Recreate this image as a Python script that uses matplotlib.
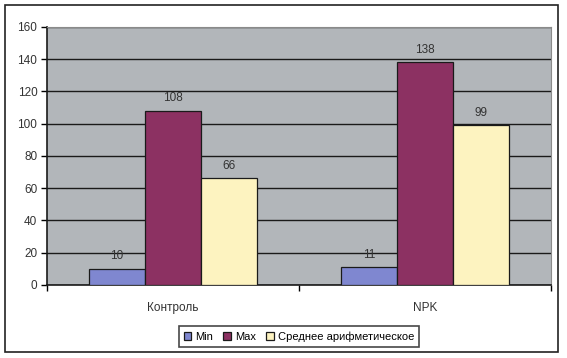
import numpy as np
import matplotlib
matplotlib.use('Agg')
import matplotlib.pyplot as plt
from matplotlib.patches import Rectangle

plt.rcParams['font.family'] = ['Liberation Sans', 'DejaVu Sans']

categories = ['Контроль', 'NPK']
series_names = ['Min', 'Max', 'Среднее арифметическое']
min_vals = [10, 11]
max_vals = [108, 138]
mean_vals = [66, 99]
colors = ['#7f87d0', '#8c3162', '#fdf3c0']

fig = plt.figure(figsize=(5.67, 3.58), dpi=100)
fig.patches.append(Rectangle((0.009, 0.017), 0.976, 0.968, transform=fig.transFigure,
                             fill=False, edgecolor='#222222', linewidth=1.2))
ax = fig.add_axes([0.083, 0.204, 0.889, 0.721])
ax.set_facecolor('#b2b6ba')

x = np.arange(len(categories))
width = 0.222
for i, (vals, name) in enumerate(zip([min_vals, max_vals, mean_vals], series_names)):
    pos = x + (i - 1) * width
    bars = ax.bar(pos, vals, width, color=colors[i], edgecolor='#1a1a1a', linewidth=0.9,
                  label=name, zorder=3)
    for b, v in zip(bars, vals):
        ax.text(b.get_x() + b.get_width() / 2, v + 4, str(v), ha='center', va='bottom',
                fontsize=8.5, color='#333333', zorder=4)

ax.set_xlim(-0.5, 1.5)
ax.set_ylim(0, 160)
ax.set_yticks(np.arange(0, 161, 20))
ax.yaxis.grid(True, color='#1a1a1a', linewidth=1.0, zorder=1)
ax.set_axisbelow(True)
ax.set_xticks(x)
ax.set_xticklabels(categories, fontsize=8.5, color='#333333')
ax.set_xticks([-0.5, 0.5, 1.5], minor=True)
ax.tick_params(axis='x', which='major', length=0, pad=12)
ax.tick_params(axis='x', which='minor', length=4, width=1.0, direction='out')
ax.tick_params(axis='y', length=4, width=1.0, direction='out', labelsize=8.5,
               labelcolor='#333333', pad=3)
for side in ['top', 'right']:
    ax.spines[side].set_color('#8a8a8a')
    ax.spines[side].set_linewidth(0.8)
for side in ['left', 'bottom']:
    ax.spines[side].set_color('#1a1a1a')
    ax.spines[side].set_linewidth(1.2)

leg = fig.legend(loc='lower center', bbox_to_anchor=(0.527, 0.022), ncol=3, fontsize=8,
                 frameon=True, fancybox=False, edgecolor='#1a1a1a', handlelength=0.7,
                 handleheight=0.7, handletextpad=0.35, columnspacing=0.9,
                 borderpad=0.45, borderaxespad=0.3)
leg.get_frame().set_linewidth(1.2)

fig.savefig('out.png', dpi=100)
